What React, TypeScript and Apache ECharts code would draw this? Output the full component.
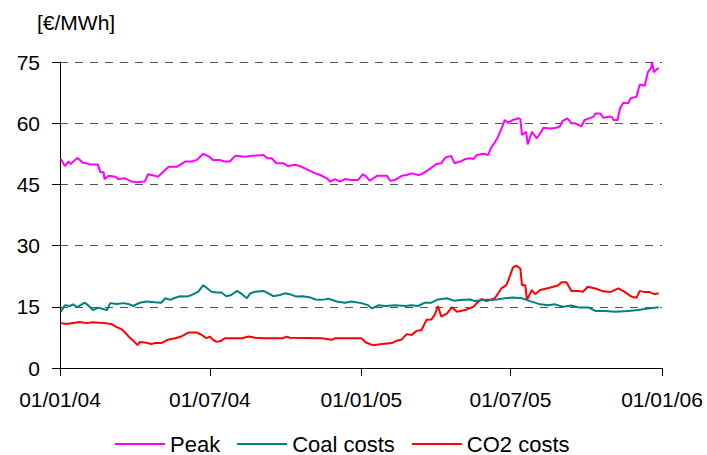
import React, { useEffect, useRef } from "react";
import * as echarts from "echarts";

// x values are days since 01/01/2004
const tickDays = [0, 182, 366, 547, 731];
const tickLabels = ["01/01/04", "01/07/04", "01/01/05", "01/07/05", "01/01/06"];
const yTicks = [0, 15, 30, 45, 60, 75];
const unitLabel = "[€/MWh]";
const seriesNames = ["Peak", "Coal costs", "CO2 costs"];

const peakData: [number, number][] = [
  [1, 51.2], [6, 49.5], [10, 50.6], [13, 50.0], [21, 51.5], [28, 50.3], [32, 50.2], [36, 49.9],
  [46, 49.9], [49, 48.0], [53, 48.0], [54, 46.3], [59, 47.1], [67, 46.9], [71, 46.3], [79, 46.5],
  [87, 45.7], [93, 45.5], [103, 45.7], [107, 47.5], [115, 47.1], [119, 46.9], [132, 49.3],
  [142, 49.3], [152, 50.6], [160, 50.6], [166, 51.0], [174, 52.5], [181, 51.8], [186, 51.0],
  [194, 51.0], [200, 50.6], [206, 50.6], [213, 52.0], [225, 51.8], [233, 52.0], [247, 52.2],
  [252, 51.4], [257, 51.4], [263, 50.2], [271, 50.2], [277, 49.5], [285, 49.8], [291, 49.5],
  [300, 48.7], [308, 47.9], [316, 47.3], [324, 46.5], [328, 45.7], [334, 46.3], [340, 45.7],
  [346, 46.3], [354, 46.1], [362, 46.1], [368, 47.5], [372, 46.9], [376, 45.9], [385, 47.1],
  [397, 47.1], [401, 45.9], [407, 46.1], [415, 47.1], [421, 47.3], [427, 47.7], [435, 47.3],
  [439, 47.5], [447, 48.5], [457, 50.0], [463, 50.2], [468, 51.6], [475, 52.0], [479, 50.2],
  [486, 50.6], [492, 51.2], [498, 51.4], [502, 51.2], [506, 52.2], [514, 52.5], [520, 52.2],
  [523, 53.8], [528, 55.3], [532, 56.7], [538, 59.6], [540, 60.8], [544, 60.1], [550, 60.8],
  [557, 61.2], [559, 61.0], [561, 57.1], [566, 57.9], [568, 54.8], [573, 57.9], [579, 56.3],
  [583, 57.5], [587, 58.9], [595, 58.7], [601, 58.8], [607, 59.2], [610, 60.5], [616, 61.2],
  [621, 60.0], [625, 60.0], [633, 59.2], [637, 60.8], [644, 61.3], [648, 61.6], [650, 62.4],
  [656, 62.4], [660, 61.3], [666, 61.6], [670, 61.6], [672, 60.8], [677, 60.8], [680, 63.6],
  [684, 65.0], [690, 64.9], [693, 66.1], [700, 66.5], [704, 69.5], [710, 69.2], [714, 72.6],
  [718, 73.6], [719, 75.0], [721, 72.5], [725, 73.3], [727, 73.5],
];

const coalData: [number, number][] = [
  [1, 13.8], [6, 15.4], [12, 15.2], [16, 15.6], [21, 14.9], [30, 16.0], [34, 15.4], [40, 14.2],
  [47, 14.8], [53, 14.4], [57, 14.2], [61, 15.9], [69, 15.7], [77, 15.9], [83, 15.7], [89, 15.2],
  [97, 16.0], [105, 16.3], [115, 16.1], [123, 16.0], [128, 17.1], [134, 16.7], [138, 17.1],
  [146, 17.6], [154, 17.5], [160, 17.9], [168, 18.7], [174, 20.3], [179, 19.5], [184, 18.7],
  [190, 18.5], [196, 18.5], [202, 17.6], [208, 17.9], [215, 18.9], [221, 18.1], [227, 17.1],
  [231, 18.3], [237, 18.7], [247, 18.9], [253, 18.3], [259, 17.6], [267, 17.9], [273, 18.3],
  [279, 18.1], [287, 17.5], [295, 17.6], [304, 17.3], [310, 16.8], [318, 16.7], [326, 17.0],
  [336, 16.3], [346, 16.0], [354, 16.3], [366, 15.9], [374, 15.4], [379, 14.6], [387, 15.4],
  [395, 15.2], [407, 15.4], [419, 15.2], [427, 15.4], [435, 15.2], [443, 16.0], [451, 16.0],
  [459, 16.8], [470, 17.1], [478, 16.5], [490, 16.7], [498, 16.8], [504, 16.4], [516, 16.7],
  [528, 16.7], [540, 17.1], [550, 17.3], [561, 17.1], [571, 16.4], [583, 15.6], [593, 15.4],
  [601, 15.6], [611, 15.0], [621, 15.3], [631, 14.8], [642, 14.8], [650, 14.0], [662, 14.0],
  [674, 13.8], [690, 14.0], [702, 14.2], [714, 14.6], [727, 14.9],
];

const co2Data: [number, number][] = [
  [1, 11.0], [8, 10.8], [18, 11.1], [24, 11.3], [32, 11.0], [40, 11.2], [47, 11.1], [55, 11.0],
  [63, 10.7], [69, 10.0], [75, 9.5], [79, 8.7], [83, 7.8], [89, 6.7], [94, 5.6], [97, 6.4],
  [105, 6.2], [111, 5.9], [115, 6.1], [123, 6.1], [132, 7.0], [140, 7.3], [148, 7.8], [156, 8.7],
  [166, 8.7], [172, 8.1], [178, 7.3], [182, 7.7], [186, 6.9], [190, 6.4], [196, 6.7], [200, 7.3],
  [221, 7.3], [229, 7.7], [237, 7.4], [247, 7.3], [271, 7.3], [275, 7.7], [279, 7.4], [318, 7.3],
  [330, 6.9], [334, 7.3], [366, 7.3], [372, 6.2], [380, 5.6], [391, 5.9], [403, 6.1], [409, 6.7],
  [415, 7.0], [421, 8.3], [427, 8.1], [433, 9.1], [439, 9.3], [445, 11.8], [451, 11.9],
  [455, 13.0], [459, 15.2], [463, 12.6], [470, 13.4], [476, 14.9], [482, 13.8], [492, 14.2],
  [502, 15.0], [506, 15.9], [512, 16.9], [518, 16.4], [528, 17.1], [536, 19.5], [542, 20.3],
  [546, 22.4], [550, 24.6], [554, 25.1], [559, 24.4], [561, 20.3], [565, 20.3], [567, 16.7],
  [573, 19.1], [577, 18.1], [583, 19.1], [591, 19.5], [599, 19.9], [605, 20.3], [609, 21.0],
  [615, 21.0], [621, 18.9], [629, 18.9], [635, 18.7], [641, 19.9], [650, 19.5], [658, 18.9],
  [668, 18.6], [678, 19.5], [686, 18.6], [694, 17.5], [700, 17.2], [704, 18.9], [710, 18.6],
  [716, 18.6], [722, 18.1], [727, 18.3],
];

const colors = ["#FF00FF", "#008080", "#FF0000"];
const FONT = "'Liberation Sans', Arial, sans-serif";

export default function App() {
  const ref = useRef<HTMLDivElement>(null);
  useEffect(() => {
    document.body.style.margin = "0";
    if (!ref.current) return;
    const chart = echarts.init(ref.current, null, { renderer: "svg" });
    const datasets = [peakData, coalData, co2Data];
    chart.setOption({
      animation: false,
      backgroundColor: "#fff",
      textStyle: { fontFamily: FONT },
      grid: { left: 60, right: 45, top: 62, bottom: 87 },
      graphic: [
        {
          type: "text",
          left: 37,
          top: 12,
          style: { text: unitLabel, fontSize: 21, fontFamily: FONT, fill: "#000" },
        },
      ],
      legend: {
        left: 110,
        top: 428,
        data: seriesNames,
        icon: "rect",
        itemWidth: 50,
        itemHeight: 2,
        itemGap: 17,
        textStyle: { fontSize: 22, fontFamily: FONT, color: "#000" },
      },
      xAxis: {
        type: "value",
        min: tickDays[0],
        max: tickDays[tickDays.length - 1],
        axisLine: { show: true, lineStyle: { color: "#000", width: 1 } },
        axisTick: { show: true, length: 8, customValues: tickDays, lineStyle: { color: "#000" } },
        axisLabel: {
          customValues: tickDays,
          formatter: (v: number) => {
            const i = tickDays.indexOf(Math.round(v));
            return i >= 0 ? tickLabels[i] : "";
          },
          fontSize: 21,
          color: "#000",
          margin: 21,
          fontFamily: FONT,
        },
        splitLine: { show: false },
      },
      yAxis: {
        type: "value",
        min: yTicks[0],
        max: yTicks[yTicks.length - 1],
        interval: 15,
        axisLine: { show: true, lineStyle: { color: "#000", width: 1 } },
        axisTick: { show: true, length: 8, lineStyle: { color: "#000" } },
        axisLabel: { fontSize: 21, color: "#000", margin: 20, fontFamily: FONT },
        splitLine: { show: true, lineStyle: { color: "#555", type: [8, 7], width: 1 } },
      },
      series: seriesNames.map((name, i) => ({
        name,
        type: "line",
        data: datasets[i],
        symbol: "none",
        lineStyle: { color: colors[i], width: 2 },
        itemStyle: { color: colors[i] },
        z: 3 - i,
      })),
    });
    return () => chart.dispose();
  }, []);
  return <div ref={ref} style={{ width: 707, height: 455 }} />;
}
